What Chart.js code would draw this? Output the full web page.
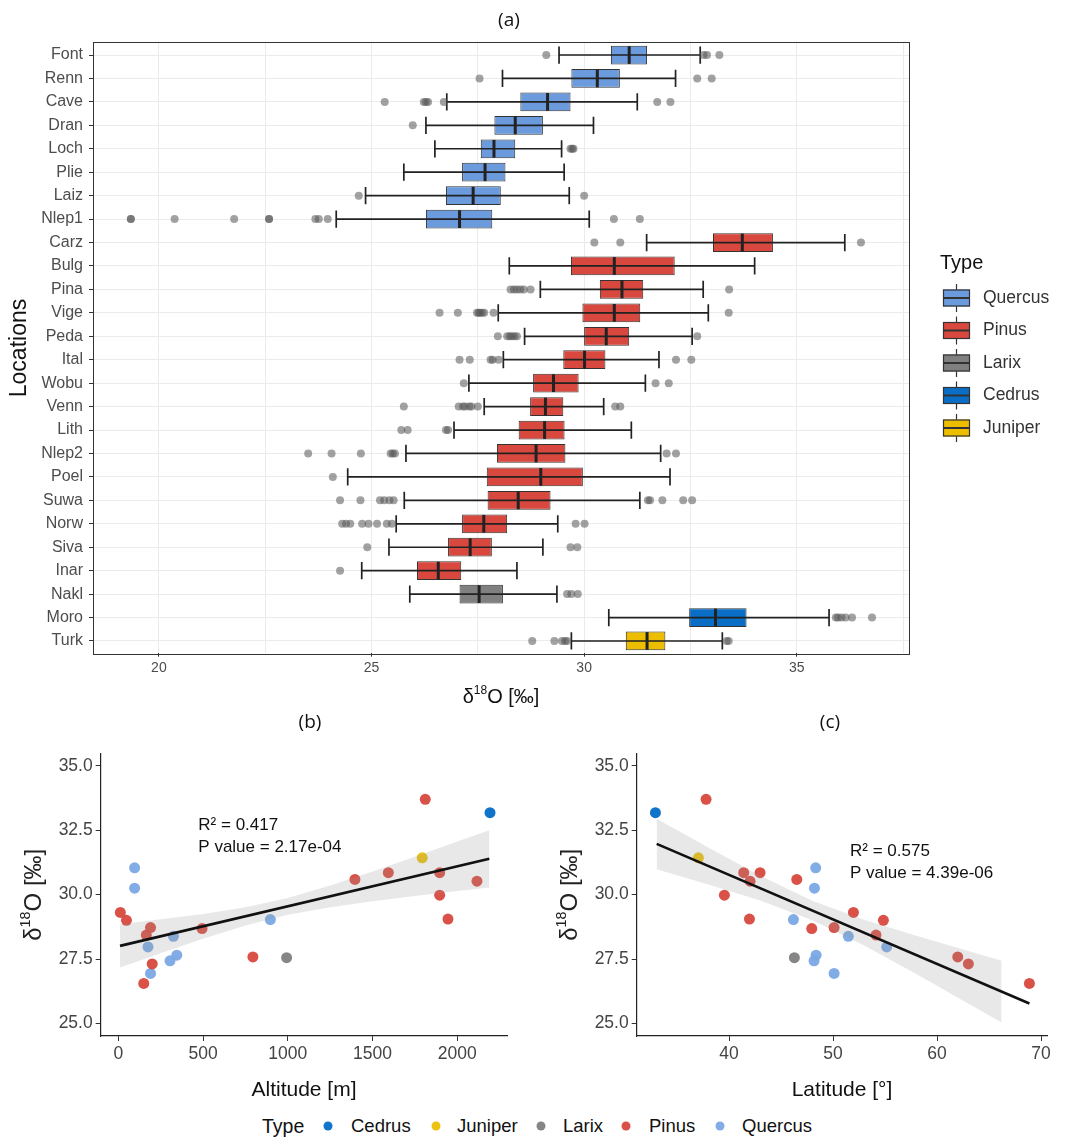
<!DOCTYPE html>
<html><head><meta charset="utf-8">
<script src="https://cdn.jsdelivr.net/npm/chart.js@4.4.1/dist/chart.umd.min.js"></script>
<style>
body{margin:0;background:#fff;width:1065px;height:1138px;position:relative;overflow:hidden;font-family:"Liberation Sans",Arial,sans-serif}
canvas{position:absolute;display:block}
.plab{position:absolute;font-family:"Open Sans",sans-serif;font-size:19px;color:#111;transform:translate(-50%,-50%);white-space:nowrap}
.lg{position:absolute;top:1126px;transform:translateY(-50%);font-size:18.5px;color:#111;white-space:nowrap}
.dot{position:absolute;top:1126px;width:9px;height:9px;border-radius:50%;transform:translate(-50%,-50%)}
</style></head><body>
<canvas id="ca" width="1065" height="720" style="left:0;top:0"></canvas>
<canvas id="cb" width="530" height="370" style="left:0;top:740px"></canvas>
<canvas id="cc" width="535" height="370" style="left:530px;top:740px"></canvas>
<div class="plab" style="left:509px;top:19px">(a)</div>
<div class="plab" style="left:310px;top:721px">(b)</div>
<div class="plab" style="left:830px;top:721px">(c)</div>
<div id="legendB"></div>
<script>
// ================= DATA =================
const locations = ['Font','Renn','Cave','Dran','Loch','Plie','Laiz','Nlep1','Carz','Bulg','Pina','Vige','Peda','Ital','Wobu','Venn','Lith','Nlep2','Poel','Suwa','Norw','Siva','Inar','Nakl','Moro','Turk'];
const locationTypes = ['Quercus','Quercus','Quercus','Quercus','Quercus','Quercus','Quercus','Quercus',
  'Pinus','Pinus','Pinus','Pinus','Pinus','Pinus','Pinus','Pinus','Pinus','Pinus','Pinus','Pinus','Pinus','Pinus','Pinus',
  'Larix','Cedrus','Juniper'];
const whiskerLow  = [29.41,28.08,26.77,26.28,26.49,25.76,24.86,24.17,31.47,28.24,28.97,27.98,28.60,28.10,27.29,27.65,26.94,25.81,24.44,25.77,25.58,25.41,24.77,25.90,30.58,29.70];
const quartile1   = [30.63,29.70,28.50,27.89,27.57,27.13,26.75,26.28,33.03,29.69,30.37,29.96,30.00,29.51,28.80,28.73,28.46,27.95,27.71,27.73,27.13,26.80,26.07,27.07,32.47,30.98];
const medians     = [31.06,30.31,29.14,28.38,27.88,27.67,27.39,27.07,33.72,30.71,30.89,30.71,30.52,30.01,29.28,29.09,29.07,28.87,28.98,28.45,27.64,27.32,26.57,27.53,33.09,31.48];
const quartile3   = [31.48,30.84,29.68,29.03,28.38,28.15,28.04,27.84,34.44,32.13,31.39,31.32,31.06,30.50,29.87,29.51,29.54,29.56,29.97,29.21,28.19,27.83,27.11,28.09,33.82,31.91];
const whiskerHigh = [32.73,32.15,31.25,30.22,29.47,29.53,29.65,30.12,36.13,34.01,32.80,32.92,32.54,31.76,31.44,30.46,31.11,31.80,32.02,31.31,29.38,29.03,28.42,29.36,35.76,33.25];
const outliers = [
  [29.11,32.81,32.89,33.18],
  [27.54,32.66,33.00],
  [25.31,26.23,26.28,26.33,26.70,31.72,32.03],
  [25.97],
  [29.68,29.72,29.75],
  [],
  [24.70,30.00],
  [19.34,19.34,20.37,21.77,22.59,22.59,23.68,23.76,23.97,30.70,31.31],
  [30.24,30.85,36.51],
  [],
  [28.27,28.35,28.42,28.50,28.58,28.74,33.41],
  [26.60,27.03,27.48,27.52,27.55,27.60,27.65,27.87,33.40],
  [27.97,28.19,28.25,28.30,28.36,28.42,32.66],
  [27.07,27.31,27.80,27.85,27.99,32.16,32.52],
  [27.17,31.68,31.99],
  [25.76,27.05,27.15,27.20,27.30,27.35,27.50,30.73,30.85],
  [25.70,25.85,26.75,26.80],
  [23.51,24.06,24.75,25.45,25.50,25.55,31.94,32.16],
  [24.09],
  [24.26,24.74,25.20,25.30,25.42,25.52,31.50,31.55,31.84,32.33,32.54],
  [24.31,24.40,24.50,24.78,24.93,25.13,25.36,25.48,29.80,30.01],
  [24.90,29.68,29.84],
  [24.26],
  [29.60,29.70,29.85],
  [35.92,35.97,36.05,36.15,36.30,36.77],
  [28.78,29.30,29.48,29.55,29.60,33.35,33.40]
];
const boxAxisTicks = [20,22.5,25,27.5,30,32.5,35,37.5];
const boxAxisLabeled = [20,25,30,35];

const quercusAltitude = [96,96,897,325,175,345,305,190];
const quercusLatitude = [48.33,48.21,46.19,51.47,55.16,48.37,48.17,50.10];
const quercusD18O     = [31.04,30.25,29.03,28.38,27.97,27.65,27.43,26.94];
const pinusAltitude = [12,48,190,165,200,150,494,794,1396,1593,1811,1896,1896,1945,2116];
const pinusLatitude = [51.96,54.84,50.10,54.13,63.01,68.88,47.95,61.99,46.51,41.41,37.79,42.98,39.55,41.96,42.02];
const pinusD18O     = [29.31,29.00,28.72,28.43,27.31,26.55,28.68,27.58,30.59,30.85,33.70,30.85,29.98,29.05,30.52];
const larixAltitude = [993],  larixLatitude = [46.28],  larixD18O = [27.55];
const cedrusAltitude = [2193], cedrusLatitude = [32.92], cedrusD18O = [33.18];
const juniperAltitude = [1793], juniperLatitude = [37.05], juniperD18O = [31.43];
const altTicks = [0,500,1000,1500,2000];
const latTicks = [40,50,60,70];
const d18OTicks = [25,27.5,30,32.5,35];

const fitAltX = [10,2189], fitAltY = [28.01,31.39];
const bandAltX    = [10,250,500,750,1000,1250,1500,1750,2000,2189];
const bandAltLow  = [27.17,27.72,28.29,28.80,29.22,29.51,29.74,29.95,30.14,30.28];
const bandAltHigh = [28.85,29.04,29.25,29.51,29.87,30.35,30.90,31.47,32.06,32.50];
const fitLatX = [33.04,68.88], fitLatY = [31.97,25.77];
const bandLatX    = [33.04,38,43,48,53,58,63,66.2];
const bandLatLow  = [30.99,30.39,29.77,29.00,28.02,26.92,25.77,25.03];
const bandLatHigh = [32.95,31.83,30.73,29.76,29.02,28.40,27.81,27.43];
const statsAlt = ['R² = 0.417','P value = 2.17e-04'];
const statsLat = ['R² = 0.575','P value = 4.39e-06'];

const boxLegendOrder = ['Quercus','Pinus','Larix','Cedrus','Juniper'];
const pointLegendOrder = ['Cedrus','Juniper','Larix','Pinus','Quercus'];

// ================= STYLES =================
const boxColors = {Quercus:'#6B9BDC', Pinus:'#D9483F', Larix:'#808080', Cedrus:'#0A6EC6', Juniper:'#EDBE00'};
const pointColors = {Quercus:'rgba(122,168,228,0.95)', Pinus:'rgba(216,72,62,0.95)', Larix:'rgba(128,128,128,0.95)', Cedrus:'rgba(8,112,200,0.97)', Juniper:'rgba(234,192,8,0.97)'};
const LS = '"Liberation Sans", Arial, sans-serif';

function drawDelta(ctx, cx, cy, size, rotate, color){
  ctx.save(); ctx.translate(cx, cy); if (rotate) ctx.rotate(-Math.PI/2);
  const f = s => s + 'px ' + LS;
  const parts = [['δ',size,0],['18',size*0.6,-size*0.34],['O [‰]',size,0]];
  let w = 0; parts.forEach(p => { ctx.font = f(p[1]); w += ctx.measureText(p[0]).width; });
  let x = -w/2; ctx.fillStyle = color; ctx.textBaseline = 'middle'; ctx.textAlign = 'left';
  parts.forEach(p => { ctx.font = f(p[1]); ctx.fillText(p[0], x, p[2]); x += ctx.measureText(p[0]).width; });
  ctx.restore();
}
const fixedTicks = arr => (scale => { scale.ticks = arr.map(v => ({value: v})); });

// ================= CHART (a) =================
const outlierPoints = [];
outliers.forEach((arr, i) => arr.forEach(v => outlierPoints.push({x: v, y: locations[i]})));

const boxPlugin = {
  id: 'boxWhiskers',
  afterDatasetDraw(chart, args) {
    if (args.index !== 0) return;
    const {ctx, scales: {x, y}} = chart;
    const bars = args.meta.data;
    ctx.save();
    ctx.strokeStyle = '#222';
    locations.forEach((loc, i) => {
      const yc = y.getPixelForValue(i);
      const h = bars[i].height;
      const xl = x.getPixelForValue(whiskerLow[i]), xh = x.getPixelForValue(whiskerHigh[i]);
      ctx.lineWidth = 1.7;
      ctx.beginPath();
      ctx.moveTo(xl, yc); ctx.lineTo(xh, yc);
      ctx.moveTo(xl, yc - h*0.46); ctx.lineTo(xl, yc + h*0.46);
      ctx.moveTo(xh, yc - h*0.46); ctx.lineTo(xh, yc + h*0.46);
      ctx.stroke();
      const xm = x.getPixelForValue(medians[i]);
      ctx.lineWidth = 3;
      ctx.beginPath(); ctx.moveTo(xm, yc - h/2 + 0.5); ctx.lineTo(xm, yc + h/2 - 0.5); ctx.stroke();
    });
    ctx.restore();
  }
};
const framePlugin = {
  id: 'frame',
  afterDraw(chart) {
    const {ctx, chartArea: a} = chart;
    ctx.save(); ctx.strokeStyle = '#333'; ctx.lineWidth = 1;
    const t = Math.round(a.top - 1.3), b = Math.round(a.bottom + 1.3);
    ctx.strokeRect(Math.round(a.left) + 0.5, t + 0.5, Math.round(a.right - a.left), b - t);
    drawDelta(ctx, (a.left + a.right)/2, 697, 20, false, '#111');
    // legend
    const lx = a.right + 34;
    ctx.fillStyle = '#111'; ctx.font = '20px ' + LS; ctx.textBaseline = 'middle'; ctx.textAlign = 'left';
    ctx.fillText('Type', a.right + 31, 263);
    boxLegendOrder.forEach((tp, i) => {
      const cy = 298 + i*32.5, w = 27, hh = 17;
      ctx.strokeStyle = '#333'; ctx.lineWidth = 1.2;
      ctx.beginPath(); ctx.moveTo(lx + w/2, cy - 14); ctx.lineTo(lx + w/2, cy + 14); ctx.stroke();
      ctx.fillStyle = boxColors[tp]; ctx.fillRect(lx, cy - hh/2, w, hh);
      ctx.strokeRect(lx + 0.5, cy - hh/2 + 0.5, w - 1, hh - 1);
      ctx.lineWidth = 2; ctx.beginPath(); ctx.moveTo(lx, cy); ctx.lineTo(lx + w, cy); ctx.stroke();
      ctx.fillStyle = '#333'; ctx.font = '17.5px ' + LS;
      ctx.fillText(tp, lx + 40, cy);
    });
    ctx.restore();
  }
};

new Chart(document.getElementById('ca'), {
  type: 'bar',
  data: {
    labels: locations,
    datasets: [
      {type: 'bar', data: locations.map((l, i) => [quartile1[i], quartile3[i]]),
       backgroundColor: locationTypes.map(t => boxColors[t]), borderColor: '#333', borderWidth: 1,
       borderSkipped: false, barPercentage: 0.8, categoryPercentage: 1, order: 1},
      {type: 'scatter', data: outlierPoints, backgroundColor: 'rgba(85,85,85,0.55)', borderWidth: 0,
       pointRadius: 4, pointHoverRadius: 4, order: 0}
    ]
  },
  options: {
    indexAxis: 'y', responsive: false, animation: false,
    layout: {padding: {left: 0, top: 43.3, right: 156, bottom: 7.3}},
    plugins: {legend: {display: false}, tooltip: {enabled: false}},
    scales: {
      x: {type: 'linear', min: 18.45, max: 37.64,
          afterBuildTicks: fixedTicks(boxAxisTicks),
          ticks: {autoSkip: false, maxRotation: 0, padding: 3,
                  callback: v => (boxAxisLabeled.includes(v) ? String(v) : ''),
                  color: '#4D4D4D', font: {family: LS, size: 14}},
          grid: {color: '#EBEBEB', lineWidth: 1, tickLength: 4,
                 tickColor: c => (c.tick && boxAxisLabeled.includes(c.tick.value) ? '#333' : 'rgba(0,0,0,0)')},
          border: {display: false},
          afterFit: s => { s.height = 60; }},
      y: {type: 'category', offset: true,
          grid: {offset: false, color: '#EBEBEB', tickColor: '#333', tickLength: 4},
          border: {display: false},
          ticks: {autoSkip: false, padding: 6, color: '#4D4D4D', font: {family: LS, size: 16}},
          title: {display: true, text: 'Locations', color: '#111', font: {family: LS, size: 23}, padding: {top: 6, bottom: 0}},
          afterFit: s => { s.width = 93; }}
    }
  },
  plugins: [boxPlugin, framePlugin]
});

// ================= CHARTS (b) and (c) =================
function typeSeries(xs, ys) { return xs.map((v, i) => ({x: v, y: ys[i]})); }

function makeScatter(id, xName, series, fitX, fitY, bandX, bandLow, bandHigh, stats, statPos, xMin, xMax, xTicks, yAxisWidth, yTitleX, rightPad) {
  const datasets = pointLegendOrder.map(t => ({
    type: 'scatter', label: t, data: series[t], backgroundColor: pointColors[t], borderWidth: 0,
    pointRadius: 5.5, pointHoverRadius: 5.5, order: 3
  }));
  datasets.push({type: 'line', data: typeSeries(bandX, bandLow), borderWidth: 0, pointRadius: 0, fill: false, tension: 0, order: 2});
  datasets.push({type: 'line', data: typeSeries(bandX, bandHigh), borderWidth: 0, pointRadius: 0, fill: '-1',
                 backgroundColor: 'rgba(150,150,150,0.22)', tension: 0, order: 2});
  datasets.push({type: 'line', data: typeSeries(fitX, fitY), borderColor: '#111', borderWidth: 2.6, pointRadius: 0,
                 fill: false, tension: 0, order: 1});
  const textPlugin = {
    id: 'txt' + id,
    afterDraw(chart) {
      const {ctx, scales: {x, y}, chartArea: a} = chart;
      ctx.save();
      ctx.fillStyle = '#111'; ctx.font = '17px ' + LS; ctx.textAlign = 'left'; ctx.textBaseline = 'middle';
      stats.forEach((s, i) => ctx.fillText(s, x.getPixelForValue(statPos.x), y.getPixelForValue(statPos.y[i])));
      drawDelta(ctx, yTitleX, (a.top + a.bottom)/2, 24, true, '#222');
      ctx.restore();
    }
  };
  return new Chart(document.getElementById(id), {
    type: 'scatter',
    data: {datasets},
    options: {
      responsive: false, animation: false,
      layout: {padding: {left: 0, top: 12.7, right: rightPad, bottom: 4}},
      plugins: {legend: {display: false}, tooltip: {enabled: false}},
      scales: {
        x: {type: 'linear', min: xMin, max: xMax,
            afterBuildTicks: fixedTicks(xTicks),
            ticks: {autoSkip: false, maxRotation: 0, padding: 3, color: '#444', font: {family: LS, size: 17.5}, callback: v => String(v)},
            grid: {display: true, drawOnChartArea: false, drawTicks: true, tickLength: 5, tickColor: '#333'},
            border: {display: true, color: '#222', width: 1.2},
            title: {display: true, text: xName, color: '#111', font: {family: LS, size: 21}, padding: {top: 0, bottom: 3}},
            afterFit: s => { s.height = 70; }},
        y: {type: 'linear', min: 24.51, max: 35.48,
            afterBuildTicks: fixedTicks(d18OTicks),
            ticks: {autoSkip: false, padding: 3, color: '#444',
                    font: {family: LS, size: 17.5}, callback: v => v.toFixed(1)},
            grid: {display: true, drawOnChartArea: false, drawTicks: true, tickLength: 5, tickColor: '#333'},
            border: {display: true, color: '#222', width: 1.2},
            afterFit: s => { s.width = yAxisWidth; }}
      }
    },
    plugins: [textPlugin]
  });
}

const altSeries = {
  Cedrus: typeSeries(cedrusAltitude, cedrusD18O), Juniper: typeSeries(juniperAltitude, juniperD18O),
  Larix: typeSeries(larixAltitude, larixD18O), Pinus: typeSeries(pinusAltitude, pinusD18O),
  Quercus: typeSeries(quercusAltitude, quercusD18O)
};
const latSeries = {
  Cedrus: typeSeries(cedrusLatitude, cedrusD18O), Juniper: typeSeries(juniperLatitude, juniperD18O),
  Larix: typeSeries(larixLatitude, larixD18O), Pinus: typeSeries(pinusLatitude, pinusD18O),
  Quercus: typeSeries(quercusLatitude, quercusD18O)
};

makeScatter('cb', 'Altitude [m]', altSeries, fitAltX, fitAltY, bandAltX, bandAltLow, bandAltHigh,
  statsAlt, {x: 472, y: [32.68, 31.84]}, -104, 2295, altTicks, 100.7, 34, 22.7);
makeScatter('cc', 'Latitude [°]', latSeries, fitLatX, fitLatY, bandLatX, bandLatLow, bandLatHigh,
  statsLat, {x: 51.63, y: [31.67, 30.81]}, 31.12, 70.6, latTicks, 106.7, 40, 17.7);

// ================= bottom legend =================
const legendDotX = [328, 436, 541, 626, 720];
const legendTextX = [351, 457, 563, 649, 742];
const lb = document.getElementById('legendB');
let html = '<div class="lg" style="left:262px;font-size:19.5px">Type</div>';
pointLegendOrder.forEach((t, i) => {
  html += '<div class="dot" style="left:' + legendDotX[i] + 'px;background:' + pointColors[t] + '"></div>';
  html += '<div class="lg" style="left:' + legendTextX[i] + 'px">' + t + '</div>';
});
lb.innerHTML = html;
</script>
</body></html>
